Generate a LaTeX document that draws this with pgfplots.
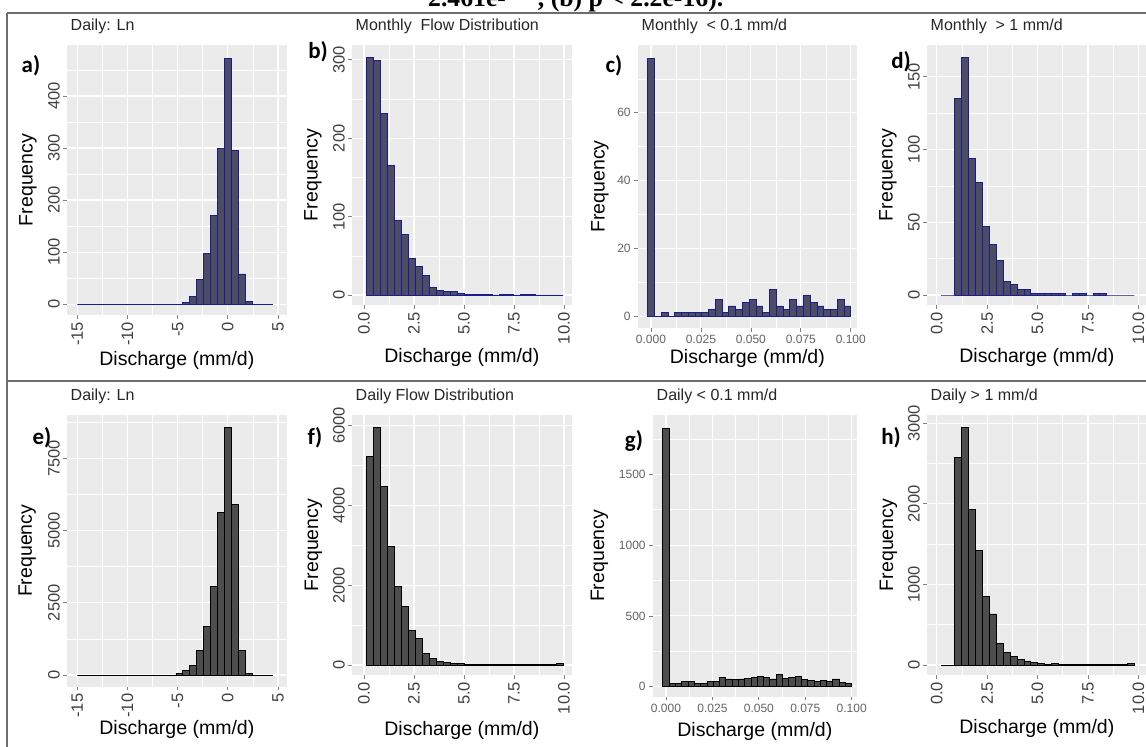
\documentclass[border=0pt]{standalone}
\usepackage{fontspec}
\setmainfont{Liberation Sans}
\newfontfamily\letterfont{Carlito}
\newfontfamily\headfont{Liberation Serif}
\usepackage{pgfplots}
\pgfplotsset{compat=1.18}

\definecolor{panel}{RGB}{235,235,235}
\definecolor{tickcol}{RGB}{65,65,65}
\definecolor{smalltick}{RGB}{100,100,100}
\definecolor{monfill}{RGB}{76,76,100}
\definecolor{monline}{RGB}{28,28,140}
\definecolor{dayfill}{RGB}{77,77,77}
\definecolor{framecol}{RGB}{110,110,110}

\pgfplotsset{
  gg/.style={
    scale only axis, anchor=north west,
    axis background/.style={fill=panel},
    axis line style={draw=none},
    tick pos=left, tick align=outside,
    major tick length=3.5pt, minor tick length=0pt,
    tick style={color=gray, line width=0.8pt},
    xmajorgrids, ymajorgrids, xminorgrids, yminorgrids,
    major grid style={white, line width=1.1pt},
    minor grid style={white, line width=0.55pt},
    xlabel={Discharge (mm/d)}, ylabel={Frequency},
    label style={font=\fontsize{19.5}{20}\selectfont, text=black},
    title style={at={(rel axis cs:0,1)}, anchor=base west, xshift=0.5pt, yshift=8.3pt,
      font=\fontsize{16}{16}\selectfont, text=black!85},
  },
  rot/.style={
    xticklabel style={rotate=90, anchor=east, font=\fontsize{16.5}{16.5}\selectfont, text=tickcol},
    yticklabel style={rotate=90, anchor=south, font=\fontsize{16.5}{16.5}\selectfont, text=tickcol},
  },
  flat/.style={
    ticklabel style={font=\fontsize{12}{12}\selectfont, text=smalltick},
  },
  mon/.style={ybar interval, fill=monfill, draw=monline, line width=0.8pt},
  day/.style={ybar interval, fill=dayfill, draw=black, line width=0.8pt},
}

\begin{document}
\begin{tikzpicture}
\useasboundingbox (0,0) rectangle (1146pt,-747pt);
\clip (0,0) rectangle (1146pt,-747pt);
\fill[white] (0,0) rectangle (1146pt,-747pt);

% caption line cut off at the top
\node[anchor=base west, inner sep=0pt, font=\headfont\bfseries\fontsize{25.7}{26}\selectfont]
  at (428pt,-6pt) {2.461e-\hspace{32pt}, (b) p < 2.2e-16).};

% frame
\draw[framecol, line width=2pt] (7pt,-12.7pt) -- (1160pt,-12.7pt);
\draw[framecol, line width=2pt] (7pt,-12.7pt) -- (7pt,-760pt);
\draw[framecol, line width=2pt] (7pt,-381pt) -- (1160pt,-381pt);

% ---------------- top row: monthly ----------------
\begin{axis}[gg, rot, at={(66.7pt,-45pt)}, width=220.3pt, height=270pt,
  xmin=-16.06, xmax=5.9, ymin=-21, ymax=498,
  xtick={-15,-10,-5,0,5}, xticklabels={-15,-10,-5,0,5},
  minor xtick={-12.5,-7.5,-2.5,2.5},
  ytick={0,100,200,300,400}, yticklabels={0,100,200,300,400},
  minor ytick={50,150,250,350,450},
  title={Daily: Ln},
  xlabel style={at={(axis description cs:0.5,-0.1667)}, anchor=center},
  ylabel style={at={(axis description cs:-0.1757,0.5)}, anchor=center}]
\addplot[mon] coordinates {(-15,0) (-4.48,3) (-3.79,15) (-3.09,48) (-2.40,98)
  (-1.71,170) (-1.02,300) (-0.32,472) (0.37,295) (1.06,58) (1.75,5) (2.45,0) (4.48,0)};
\end{axis}

\begin{axis}[gg, rot, at={(351.7pt,-45pt)}, width=220.3pt, height=260pt,
  xmin=-0.615, xmax=10.4, ymin=-12.8, ymax=319,
  xtick={0,2.5,5,7.5,10}, xticklabels={0.0,2.5,5.0,7.5,10.0},
  minor xtick={1.25,3.75,6.25,8.75},
  ytick={0,100,200,300}, yticklabels={0,100,200,300},
  minor ytick={50,150,250},
  title={Monthly~~Flow Distribution},
  xlabel style={at={(axis description cs:0.5,-0.2)}, anchor=center},
  ylabel style={at={(axis description cs:-0.1757,0.5)}, anchor=center}]
\addplot[mon] coordinates {(0.100,303) (0.452,299) (0.804,232) (1.156,165) (1.508,95)
  (1.860,77) (2.212,47) (2.564,36) (2.916,25) (3.268,10) (3.620,6) (3.972,4) (4.324,4)
  (4.676,2) (5.028,1) (5.380,1) (5.732,1) (6.084,1) (6.436,0) (6.788,1) (7.140,1)
  (7.492,0) (7.844,1) (8.196,1) (8.548,0) (8.900,0) (9.252,0) (9.604,0) (9.956,0)};
\end{axis}

\begin{axis}[gg, flat, at={(637.7pt,-45pt)}, width=219.3pt, height=283pt,
  xmin=-0.00665, xmax=0.1031, ymin=-3.5, ymax=80,
  xtick={0,0.025,0.05,0.075,0.1}, xticklabels={0.000,0.025,0.050,0.075,0.100},
  minor xtick={0.0125,0.0375,0.0625,0.0875},
  ytick={0,20,40,60}, yticklabels={0,20,40,60},
  minor ytick={10,30,50,70},
  title={Monthly~~< 0.1 mm/d},
  xlabel style={at={(axis description cs:0.5,-0.106)}, anchor=center},
  ylabel style={at={(axis description cs:-0.172,0.5)}, anchor=center}]
\addplot[mon] coordinates {(-0.001695,76) (0.001695,0) (0.005085,1) (0.008475,0)
  (0.011865,1) (0.015255,1) (0.018645,1) (0.022035,1) (0.025425,1) (0.028815,2)
  (0.032205,5) (0.035595,1) (0.038985,3) (0.042375,2) (0.045765,4) (0.049155,5)
  (0.052545,3) (0.055935,1) (0.059325,8) (0.062715,3) (0.066105,2) (0.069495,5)
  (0.072885,3) (0.076275,6) (0.079665,4) (0.083055,3) (0.086445,2) (0.089835,2)
  (0.093225,5) (0.096615,3) (0.100005,0)};
\end{axis}

\begin{axis}[gg, rot, at={(926.7pt,-45pt)}, width=220.3pt, height=260pt,
  xmin=-0.5, xmax=10.43, ymin=-6.87, ymax=171.7,
  xtick={0,2.5,5,7.5,10}, xticklabels={0.0,2.5,5.0,7.5,10.0},
  minor xtick={1.25,3.75,6.25,8.75},
  ytick={0,50,100,150}, yticklabels={0,50,100,150},
  minor ytick={25,75,125},
  title={Monthly~~> 1 mm/d},
  xlabel style={at={(axis description cs:0.5,-0.2)}, anchor=center},
  ylabel style={at={(axis description cs:-0.1757,0.5)}, anchor=center}]
\addplot[mon] coordinates {(0.213,0) (0.555,0) (0.898,135) (1.240,163) (1.583,94)
  (1.925,77) (2.267,47) (2.610,35) (2.952,24) (3.295,9) (3.637,7) (3.979,4) (4.322,4)
  (4.664,1) (5.007,1) (5.349,1) (5.691,1) (6.034,1) (6.376,0) (6.719,1) (7.061,1)
  (7.403,0) (7.746,1) (8.088,1) (8.431,0) (8.773,0) (9.115,0) (9.458,0) (9.800,0)};
\end{axis}

% ---------------- bottom row: daily ----------------
\begin{axis}[gg, rot, at={(66.7pt,-415pt)}, width=220.3pt, height=271.7pt,
  xmin=-16.06, xmax=5.9, ymin=-405, ymax=9000,
  xtick={-15,-10,-5,0,5}, xticklabels={-15,-10,-5,0,5},
  minor xtick={-12.5,-7.5,-2.5,2.5},
  ytick={0,2500,5000,7500}, yticklabels={0,2500,5000,7500},
  minor ytick={1250,3750,6250,8750},
  title={Daily: Ln},
  xlabel style={at={(axis description cs:0.5,-0.159)}, anchor=center},
  ylabel style={at={(axis description cs:-0.179,0.5)}, anchor=center}]
\addplot[day] coordinates {(-15,0) (-5.17,58) (-4.48,173) (-3.79,346) (-3.09,842)
  (-2.40,1673) (-1.71,3080) (-1.02,5620) (-0.32,8570) (0.37,5900) (1.06,842) (1.75,58)
  (2.45,0) (4.48,0)};
\end{axis}

\begin{axis}[gg, rot, at={(351.7pt,-415pt)}, width=220.3pt, height=260pt,
  xmin=-0.615, xmax=10.4, ymin=-250.6, ymax=6266,
  xtick={0,2.5,5,7.5,10}, xticklabels={0.0,2.5,5.0,7.5,10.0},
  minor xtick={1.25,3.75,6.25,8.75},
  ytick={0,2000,4000,6000}, yticklabels={0,2000,4000,6000},
  minor ytick={1000,3000,5000},
  title={Daily Flow Distribution},
  xlabel style={at={(axis description cs:0.5,-0.2115)}, anchor=center},
  ylabel style={at={(axis description cs:-0.174,0.5)}, anchor=center}]
\addplot[day] coordinates {(0.100,5221) (0.452,5957) (0.804,4486) (1.156,2966)
  (1.508,1963) (1.860,1462) (2.212,860) (2.564,668) (2.916,292) (3.268,167) (3.620,100)
  (3.972,67) (4.324,42) (4.676,33) (5.028,25) (5.380,20) (5.732,18) (6.084,15)
  (6.436,15) (6.788,12) (7.140,10) (7.492,18) (7.844,20) (8.196,15) (8.548,12)
  (8.900,15) (9.252,25) (9.604,40) (9.956,0)};
\end{axis}

\begin{axis}[gg, flat, at={(652.7pt,-415pt)}, width=204.3pt, height=281.7pt,
  xmin=-0.00716, xmax=0.10285, ymin=-70.6, ymax=1919,
  xtick={0,0.025,0.05,0.075,0.1}, xticklabels={0.000,0.025,0.050,0.075,0.100},
  minor xtick={0.0125,0.0375,0.0625,0.0875},
  ytick={0,500,1000,1500}, yticklabels={0,500,1000,1500},
  minor ytick={250,750,1250,1750},
  title={Daily < 0.1 mm/d},
  xlabel style={at={(axis description cs:0.5,-0.124)}, anchor=center},
  ylabel style={at={(axis description cs:-0.261,0.5)}, anchor=center}]
\addplot[day] coordinates {(-0.001695,1824) (0.001695,20) (0.005085,25) (0.008475,35)
  (0.011865,40) (0.015255,25) (0.018645,25) (0.022035,35) (0.025425,40) (0.028815,65)
  (0.032205,55) (0.035595,50) (0.038985,55) (0.042375,60) (0.045765,65) (0.049155,70)
  (0.052545,65) (0.055935,55) (0.059325,85) (0.062715,60) (0.066105,65) (0.069495,70)
  (0.072885,50) (0.076275,45) (0.079665,40) (0.083055,45) (0.086445,40) (0.089835,55)
  (0.093225,30) (0.096615,20) (0.100005,0)};
\end{axis}

\begin{axis}[gg, rot, at={(926.7pt,-415pt)}, width=220.3pt, height=260pt,
  xmin=-0.5, xmax=10.43, ymin=-124, ymax=3102,
  xtick={0,2.5,5,7.5,10}, xticklabels={0.0,2.5,5.0,7.5,10.0},
  minor xtick={1.25,3.75,6.25,8.75},
  ytick={0,1000,2000,3000}, yticklabels={0,1000,2000,3000},
  minor ytick={500,1500,2500},
  title={Daily > 1 mm/d},
  xlabel style={at={(axis description cs:0.5,-0.205)}, anchor=center},
  ylabel style={at={(axis description cs:-0.174,0.5)}, anchor=center}]
\addplot[day] coordinates {(0.213,0) (0.555,0) (0.898,2572) (1.240,2949) (1.583,1931)
  (1.925,1427) (2.267,856) (2.610,633) (2.952,269) (3.295,153) (3.637,103) (3.979,74)
  (4.322,50) (4.664,33) (5.007,20) (5.349,12) (5.691,20) (6.034,10) (6.376,8) (6.719,8)
  (7.061,6) (7.403,5) (7.746,12) (8.088,10) (8.431,8) (8.773,10) (9.115,6) (9.458,17)
  (9.800,0)};
\end{axis}

% panel letters
\begin{scope}[every node/.style={font=\letterfont\bfseries\fontsize{23}{23}\selectfont}]
\node at (31pt,-66pt) {a)};
\node at (318pt,-52pt) {b)};
\node at (614pt,-66pt) {c)};
\node at (901pt,-62pt) {d)};
\node at (42pt,-438pt) {e)};
\node at (315pt,-438pt) {f)};
\node at (634pt,-441pt) {g)};
\node at (891pt,-438pt) {h)};
\end{scope}
\end{tikzpicture}
\end{document}
